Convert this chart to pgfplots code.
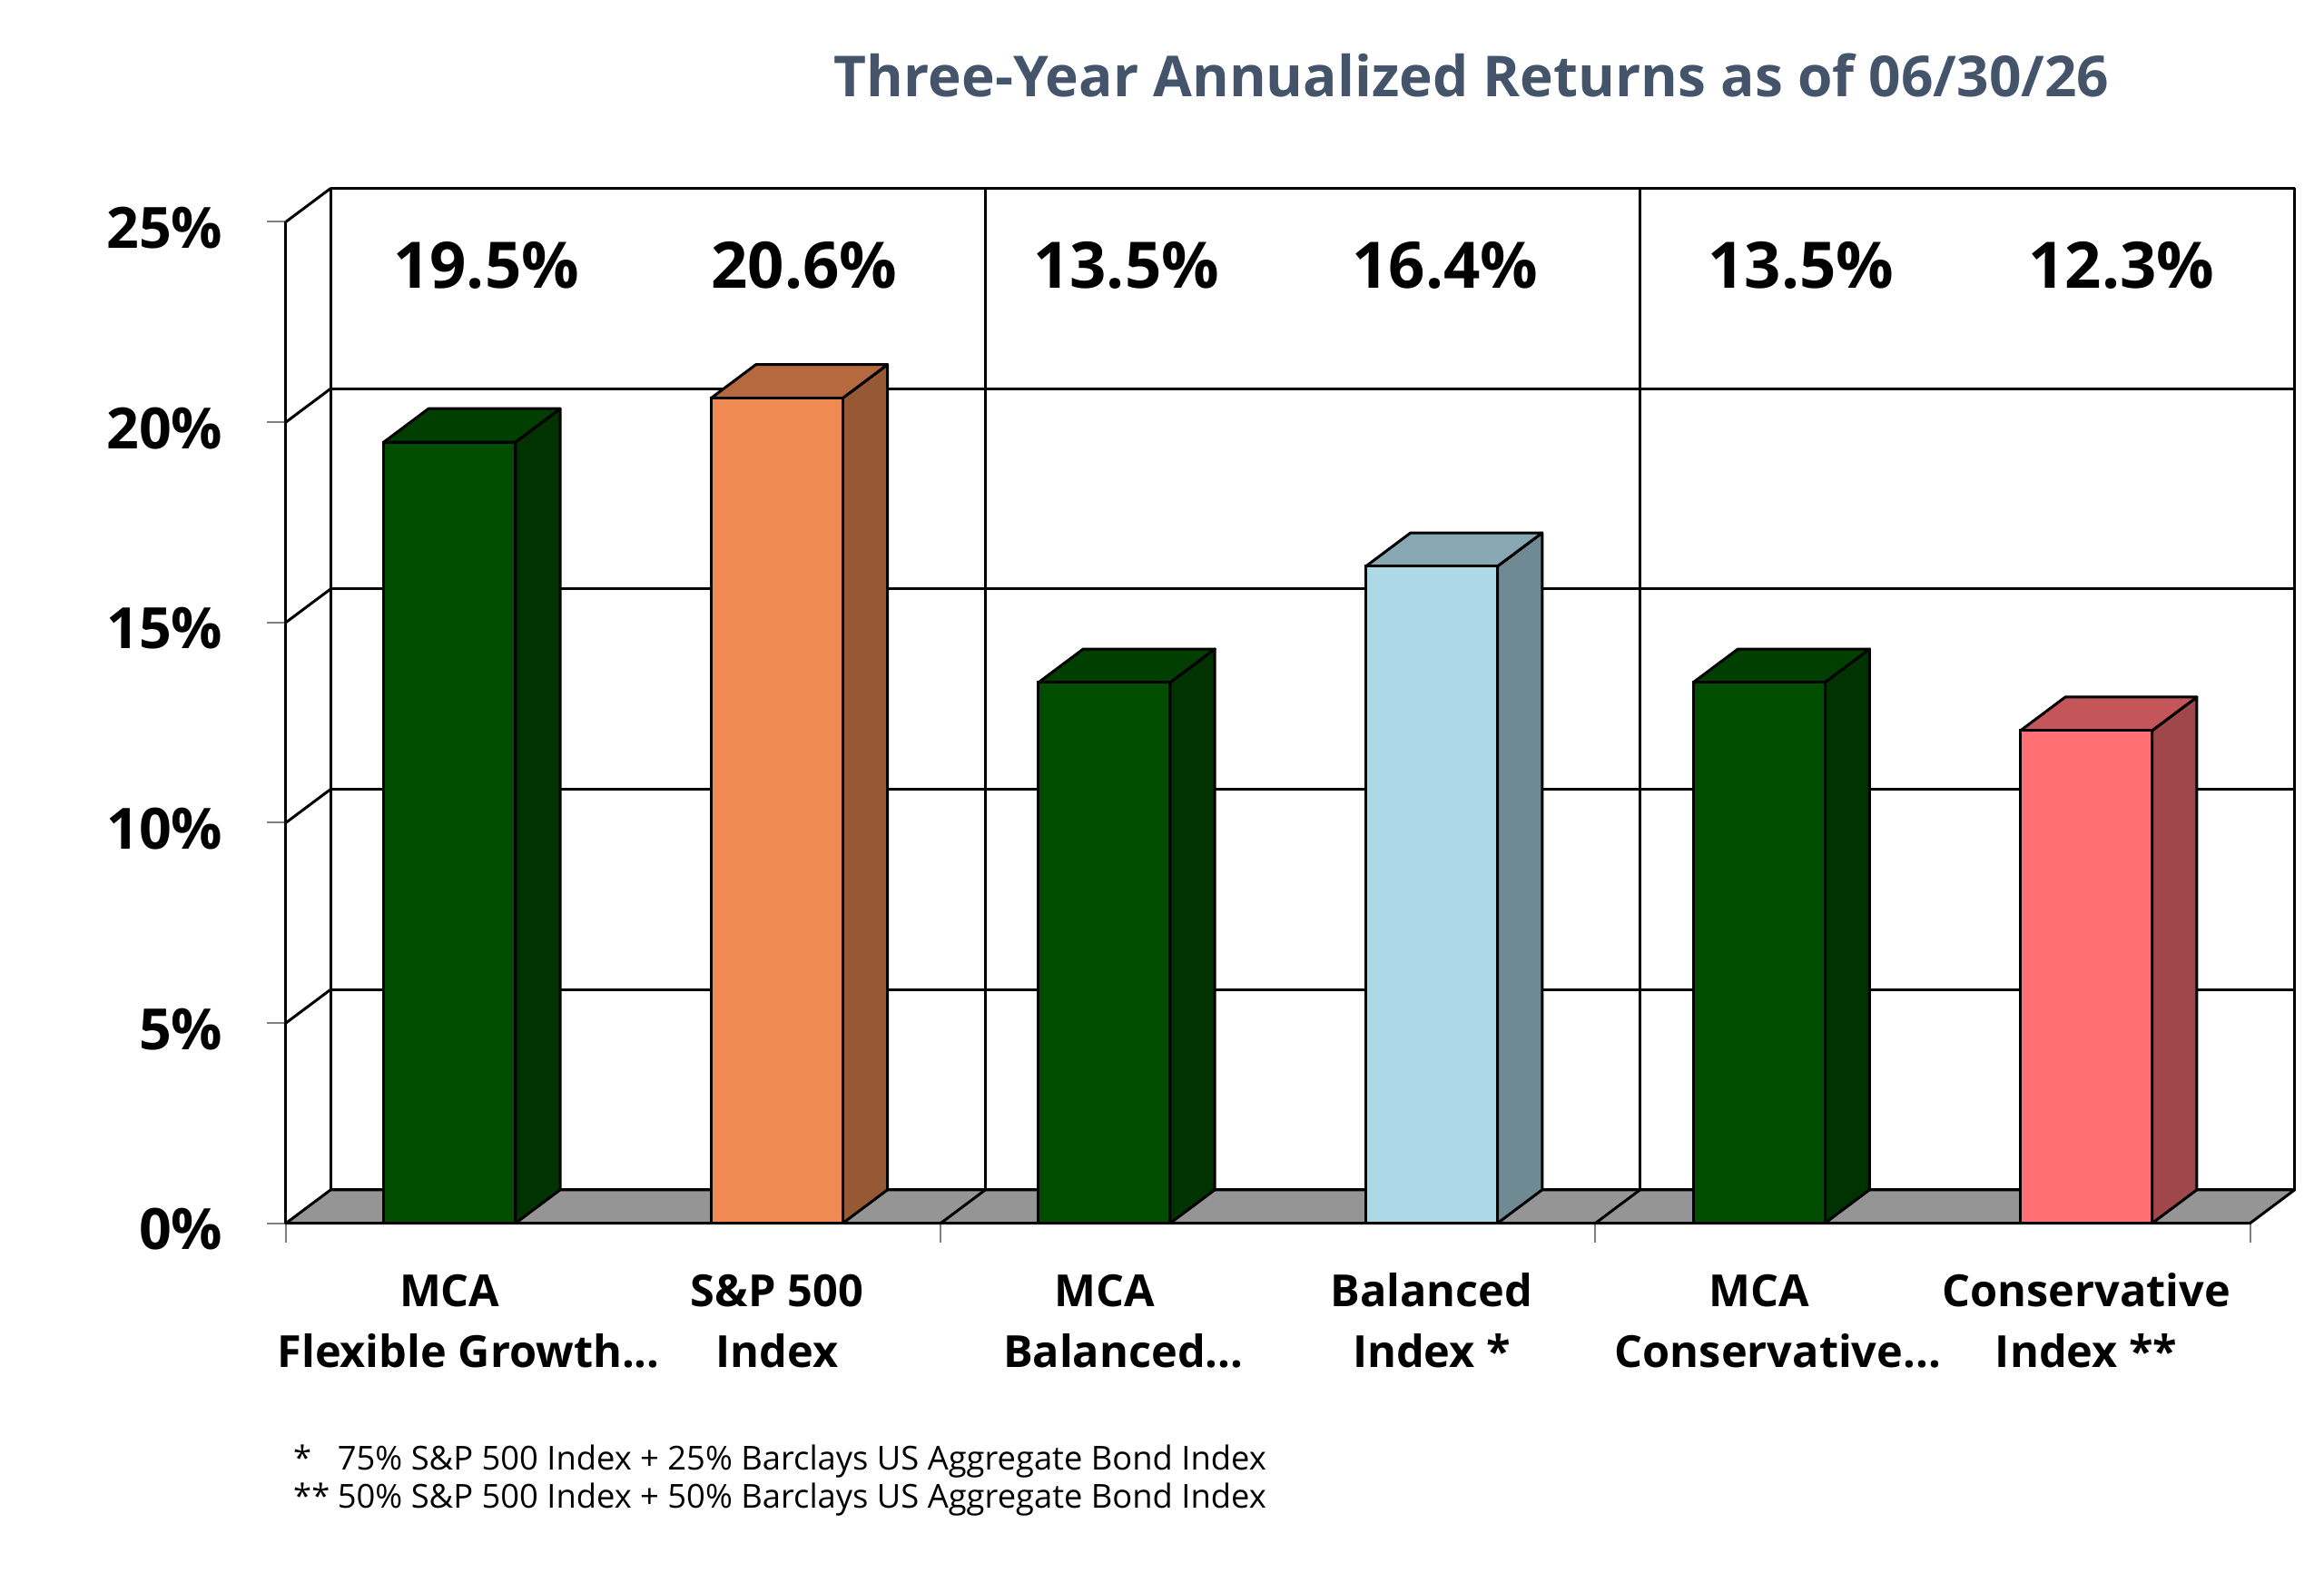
\documentclass[border=0pt]{standalone}
\usepackage{fontspec}
\setmainfont{Open Sans}
\usepackage{pgfplots}
\usepackage{pgfplotstable}
\pgfplotsset{compat=1.18}

\definecolor{titlecol}{HTML}{44546A}
\definecolor{floorcol}{HTML}{959595}
\definecolor{front0}{HTML}{004D00}\definecolor{top0}{HTML}{003F00}\definecolor{side0}{HTML}{003300}
\definecolor{front1}{HTML}{EE8A52}\definecolor{top1}{HTML}{B6693E}\definecolor{side1}{HTML}{975835}
\definecolor{front2}{HTML}{004D00}\definecolor{top2}{HTML}{003F00}\definecolor{side2}{HTML}{003300}
\definecolor{front3}{HTML}{ADD8E6}\definecolor{top3}{HTML}{87A7B2}\definecolor{side3}{HTML}{6F8A93}
\definecolor{front4}{HTML}{004D00}\definecolor{top4}{HTML}{003F00}\definecolor{side4}{HTML}{003300}
\definecolor{front5}{HTML}{FF7074}\definecolor{top5}{HTML}{C4565A}\definecolor{side5}{HTML}{A0474B}

\pgfplotstableread{
x v
0 19.5
1 20.6
2 13.5
3 16.4
4 13.5
5 12.3
}\datatable

\def\dx{0.1367}
\def\dy{0.835}
\def\hw{0.201}

\begin{document}
\begin{tikzpicture}
\useasboundingbox (-94.5pt,-115.3pt) rectangle (673.5pt,404.3pt);
\begin{axis}[
  at={(0,0)}, anchor=south west,
  scale only axis, width=649.05pt, height=331.0pt,
  xmin=-0.5, xmax=5.5, ymin=0, ymax=25,
  clip=false,
  axis line style={draw=none},
  ytick={0,5,10,15,20,25},
  yticklabels={0\%,5\%,10\%,15\%,20\%,25\%},
  ytick pos=left, xtick pos=bottom,
  xtick={-0.5,1.5,3.5,5.5},
  xticklabels={},
  tick align=outside,
  major tick length=6.3pt,
  tick style={gray, line width=0.6pt},
  yticklabel style={font=\fontsize{18.8}{22}\selectfont\bfseries, inner sep=0pt, anchor=east, xshift=-14.4pt, yshift=-2pt},
  extra x ticks={0,1,2,3,4,5},
  extra x tick labels={
    {\begin{tabular}[t]{@{}c@{}}MCA\\Flexible Growth\rlap{...}\end{tabular}},
    {\begin{tabular}[t]{@{}c@{}}S\&P 500\\Index\end{tabular}},
    {\begin{tabular}[t]{@{}c@{}}MCA\\Balanced\rlap{...}\end{tabular}},
    {\begin{tabular}[t]{@{}c@{}}Balanced\\Index *\end{tabular}},
    {\begin{tabular}[t]{@{}c@{}}MCA\\Conservative\rlap{...}\end{tabular}},
    {\begin{tabular}[t]{@{}c@{}}Conservative\\Index **\end{tabular}}},
  extra x tick style={major tick length=0pt,
    xticklabel style={font=\fontsize{14.6}{20.1}\selectfont\bfseries, inner sep=0pt, anchor=base, yshift=-27.4pt}},
]
% back wall
\pgfplotsinvokeforeach{0.835,5.835,10.835,15.835,20.835,25.835}{
  \draw[line width=0.9pt] (axis cs:-0.3633,#1) -- (axis cs:5.6367,#1);
}
\pgfplotsinvokeforeach{-0.3633,1.6367,3.6367,5.6367}{
  \draw[line width=0.9pt] (axis cs:#1,0.835) -- (axis cs:#1,25.835);
}
% left side wall
\draw[line width=0.9pt] (axis cs:-0.5,0) -- (axis cs:-0.5,25);
\pgfplotsinvokeforeach{5,10,15,20,25}{
  \draw[line width=0.9pt] (axis cs:-0.5,#1) -- (axis cs:-0.3633,#1.835);
}
% floor
\draw[line width=0.9pt, fill=floorcol, line join=round] (axis cs:-0.5,0) -- (axis cs:5.5,0) -- (axis cs:5.6367,0.835) -- (axis cs:-0.3633,0.835) -- cycle;
\draw[line width=0.9pt] (axis cs:1.5,0) -- (axis cs:1.6367,0.835);
\draw[line width=0.9pt] (axis cs:3.5,0) -- (axis cs:3.6367,0.835);

% bars
\pgfplotsinvokeforeach{0,1,2,3,4,5}{
  \pgfplotstablegetelem{#1}{v}\of\datatable
  \edef\vv{\pgfplotsretval}
  \pgfmathsetmacro\xl{#1-\hw}
  \pgfmathsetmacro\xr{#1+\hw}
  \pgfmathsetmacro\xll{#1-\hw+\dx}
  \pgfmathsetmacro\xrr{#1+\hw+\dx}
  \pgfmathsetmacro\vt{\vv+\dy}
  \addplot[fill=side#1, draw=black, line width=0.9pt, line join=round, mark=none]
    coordinates {(\xr,0) (\xrr,\dy) (\xrr,\vt) (\xr,\vv) (\xr,0)};
  \addplot[fill=top#1, draw=black, line width=0.9pt, line join=round, mark=none]
    coordinates {(\xl,\vv) (\xr,\vv) (\xrr,\vt) (\xll,\vt) (\xl,\vv)};
  \addplot[ybar, bar width=0.402, bar shift=0pt, fill=front#1, draw=black, line width=0.9pt]
    table[x=x, y=v, restrict x to domain=#1:#1] {\datatable};
}

% value labels
\begin{scope}[every node/.style={font=\fontsize{21.2}{26}\selectfont\bfseries, anchor=base, inner sep=0pt}]
\node at (axis cs:0.112,23.35) {19.5\%};
\node at (axis cs:1.083,23.35) {20.6\%};
\node at (axis cs:2.067,23.35) {13.5\%};
\node at (axis cs:3.041,23.35) {16.4\%};
\node at (axis cs:4.128,23.35) {13.5\%};
\node at (axis cs:5.107,23.35) {12.3\%};
\end{scope}

% title
\node[anchor=base, inner sep=0pt, text=titlecol, font=\fontsize{18.65}{23}\selectfont\bfseries] at (axis cs:3.122,28.13) {Three-Year Annualized Returns as of 06/30/26};

% footnotes
\node[anchor=base west, inner sep=0pt, font=\fontsize{10.9}{12.5}\selectfont] at (axis cs:-0.479,-6.17)
  {\begin{tabular}[t]{@{}l@{}}\makebox[14.6pt][l]{*}75\% S\&P 500 Index + 25\% Barclays US Aggregate Bond Index\\
   \makebox[14.6pt][l]{**}50\% S\&P 500 Index + 50\% Barclays US Aggregate Bond Index\end{tabular}};
\end{axis}
\end{tikzpicture}
\end{document}
